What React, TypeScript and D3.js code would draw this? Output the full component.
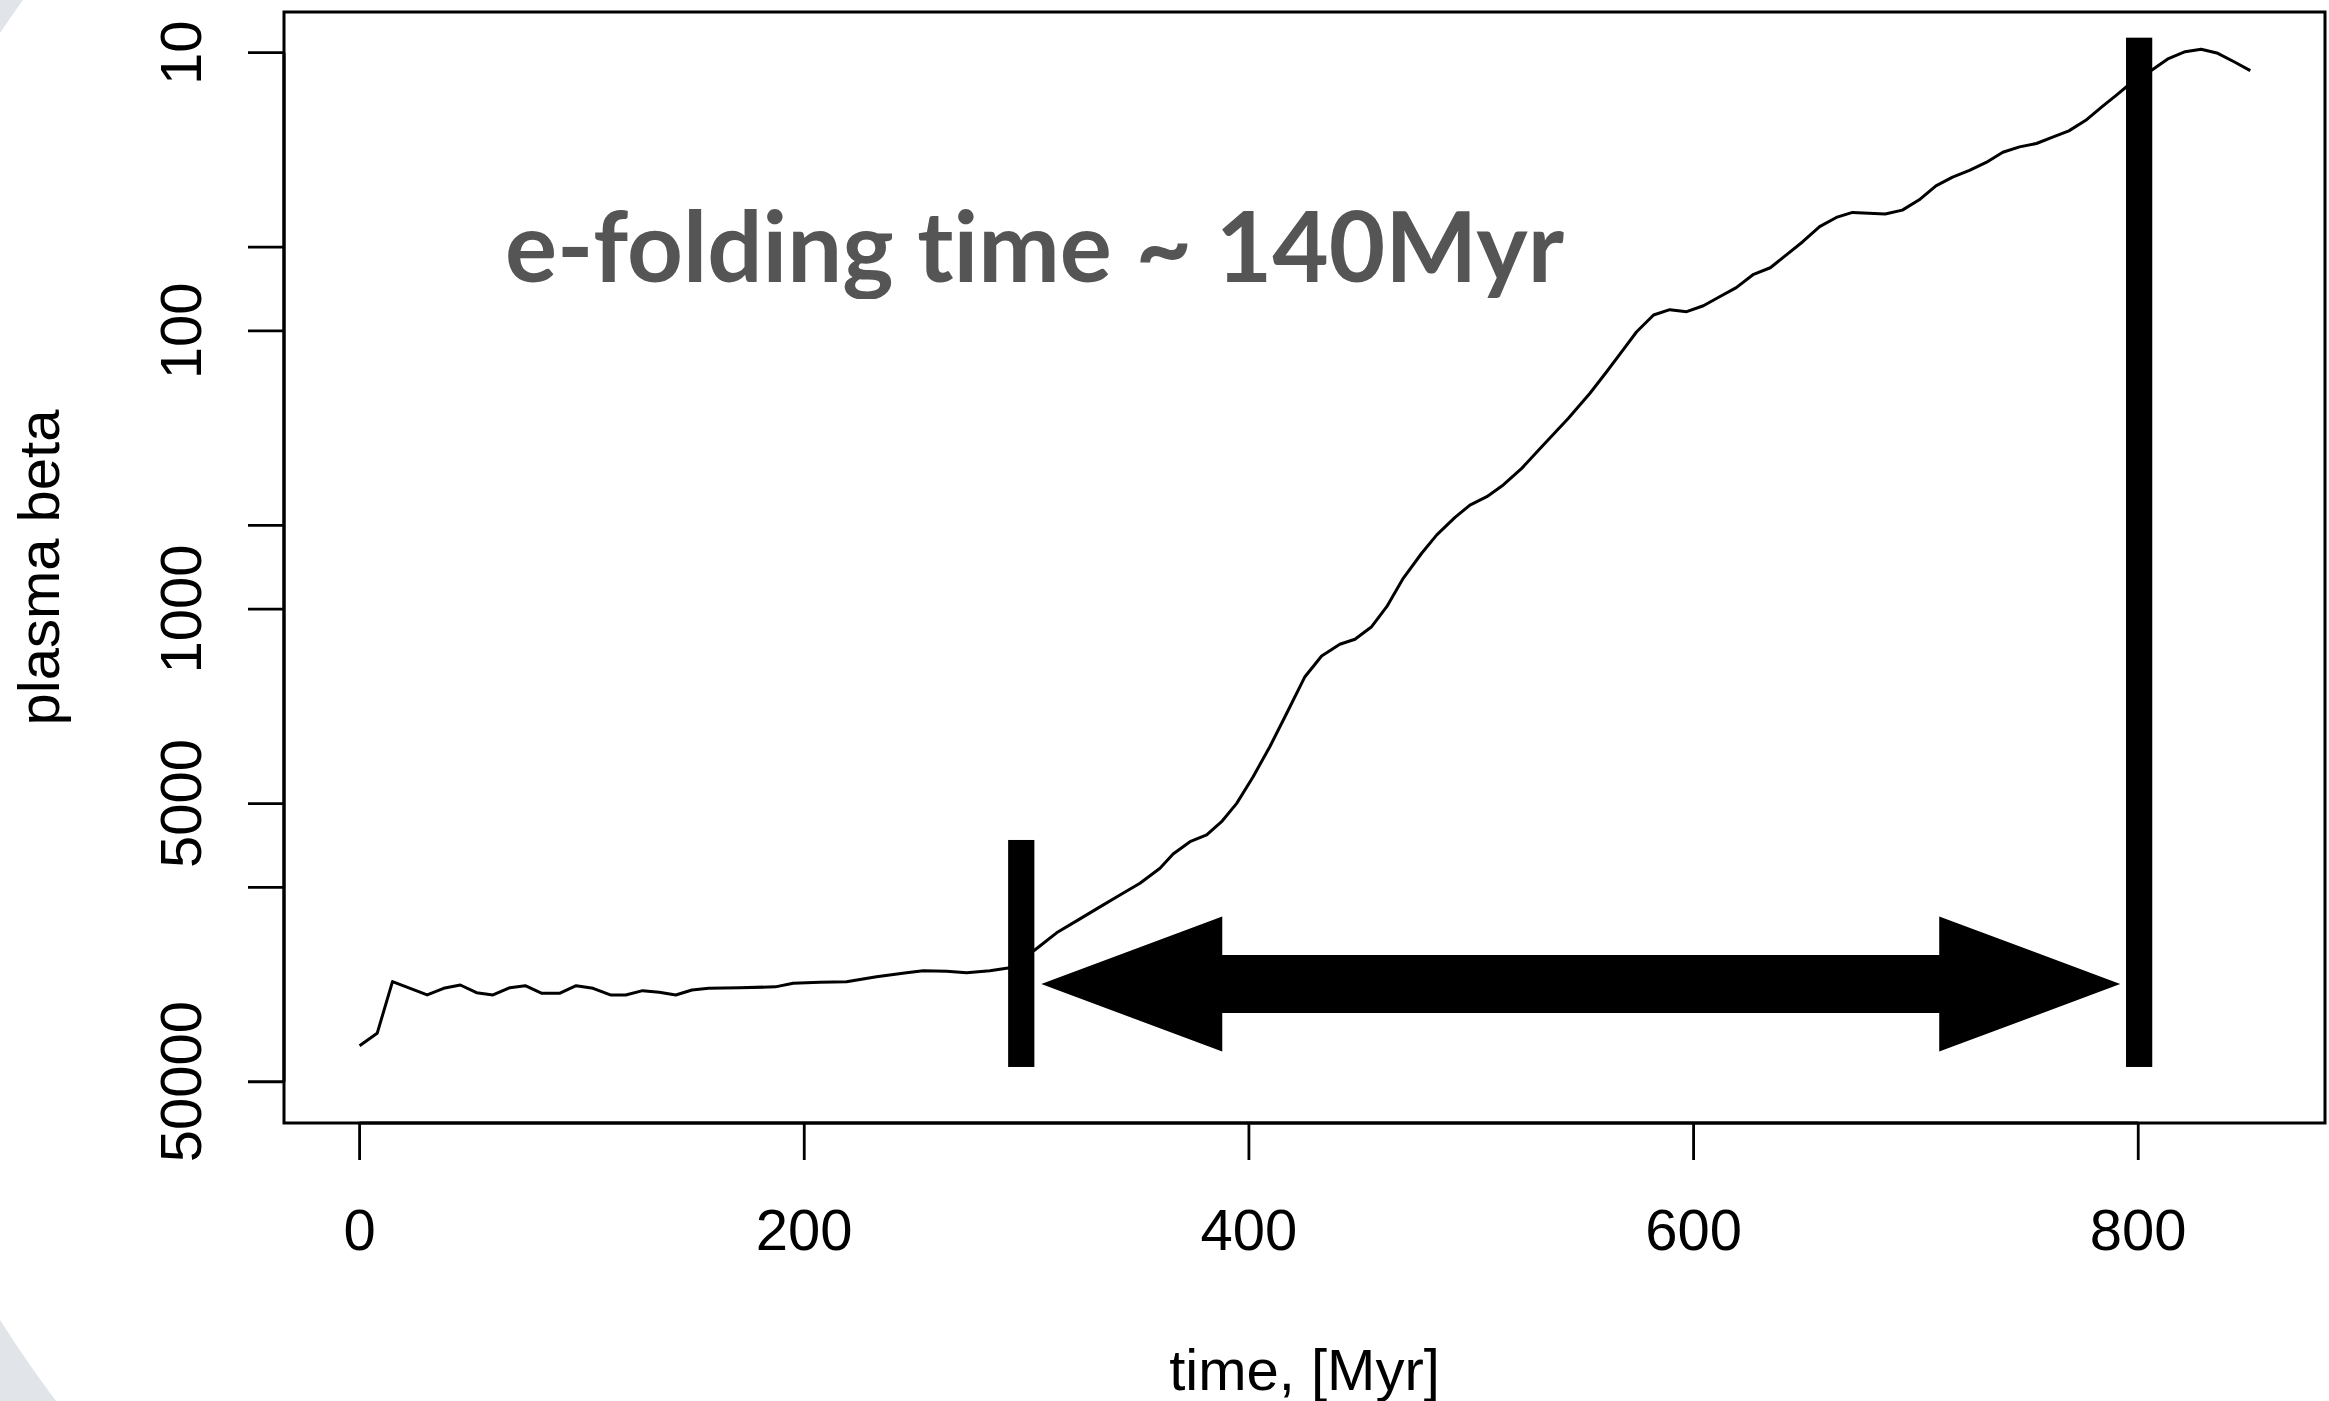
import React from 'react';
import * as d3 from 'd3';

// ---- data ----
const time = [
  0, 7.9, 14.8, 30.4, 37.8, 45.3, 52.6, 60.0, 67.6, 74.5,
  82.0, 89.9, 97.4, 105.0, 112.8, 119.7, 127.3, 134.8, 142.2, 149.5,
  157.0, 171.0, 187.0, 195.0, 207.0, 219.0, 232.5, 246.0, 253.5, 264.0,
  273.0, 283.5, 291.7, 303.7, 313.5, 324.0, 333.0, 342.0, 351.0, 360.0,
  365.9, 373.5, 381.0, 387.7, 394.5, 401.9, 409.4, 417.0, 425.2, 432.7,
  440.9, 447.7, 455.2, 462.0, 469.4, 477.7, 484.5, 492.7, 499.4, 507.0,
  514.4, 522.7, 531.7, 543.7, 553.4, 560.9, 567.7, 574.4, 582.0, 589.3,
  596.9, 604.4, 611.7, 619.2, 627.0, 634.5, 641.6, 649.1, 656.7, 664.2,
  671.5, 686.2, 693.9, 701.5, 709.0, 716.5, 724.1, 731.6, 739.1, 746.6,
  754.2, 761.5, 768.8, 776.4, 783.9, 790.2, 795.0, 806.5, 813.6, 821.1,
  828.3, 835.8, 843.3, 850.4,
];
const plasmaBeta = [
  37100, 33490, 21840, 24380, 23070, 22450, 23930, 24380, 22960, 22580,
  24050, 24050, 22580, 23070, 24380, 24380, 23530, 23850, 24380, 23400,
  23070, 22960, 22800, 22130, 21950, 21840, 20960, 20280, 19940, 20040,
  20280, 19940, 19490, 16810, 14580, 12990, 11760, 10660, 9675, 8544,
  7592, 6857, 6486, 5811, 4992, 4004, 3124, 2369, 1750, 1474,
  1338, 1284, 1157, 980, 775, 630, 541, 468, 423, 394.5,
  358, 312, 260.8, 206.2, 167.6, 140.2, 118.8, 100.7, 87.7, 83.9,
  85.3, 81.2, 75.4, 69.9, 62.6, 59.3, 53.4, 47.8, 42.2, 39.1,
  37.5, 38.0, 36.8, 33.8, 30.1, 28.0, 26.5, 24.8, 22.8, 21.8,
  21.2, 20.1, 19.1, 17.5, 15.6, 14.2, 13.2, 11.5, 10.5, 9.92,
  9.72, 10.05, 10.8, 11.6,
];

const xTicks = [0, 200, 400, 600, 800];
const xTickLabels = ['0', '200', '400', '600', '800'];
const yTicks = [10, 50, 100, 500, 1000, 5000, 10000, 50000];
const yTickLabels = ['10', '', '100', '', '1000', '5000', '', '50000'];

// annotation markers (data units)
const markerTimes = [297.6, 800.4];
const markerTops = [6760, 8.83];
const markerBottom = 44250;
const markerHalfWidth = 5.9; // Myr
const arrowStart = 306.6;
const arrowEnd = 791.9;
const arrowLevel = 22270;
const annotationText = 'e-folding time ~ 140Myr';
const xTitle = 'time, [Myr]';
const yTitle = 'plasma beta';

export default function App() {
  const W = 2329;
  const H = 1401;
  const left = 284, right = 2325, top = 12, bottom = 1123;

  const x = d3.scaleLinear().domain([-34, 884]).range([left, right]);
  const y = d3.scaleLog().domain([7.14, 70360]).range([top, bottom]);

  const pts = time.map((t, i) => [t, plasmaBeta[i]] as [number, number]);
  const line = d3.line<[number, number]>().x(d => x(d[0])).y(d => y(d[1]));

  const font = '"Liberation Sans", Arial, Helvetica, sans-serif';
  const fs = 58;

  // double arrow
  const xl = x(arrowStart), xr = x(arrowEnd), yc = y(arrowLevel);
  const headLen = 181, headHalf = 67.5, shaftHalf = 29;
  const arrowPath = [
    `M${xl},${yc}`,
    `L${xl + headLen},${yc - headHalf}`,
    `L${xl + headLen},${yc - shaftHalf}`,
    `L${xr - headLen},${yc - shaftHalf}`,
    `L${xr - headLen},${yc - headHalf}`,
    `L${xr},${yc}`,
    `L${xr - headLen},${yc + headHalf}`,
    `L${xr - headLen},${yc + shaftHalf}`,
    `L${xl + headLen},${yc + shaftHalf}`,
    `L${xl + headLen},${yc + headHalf}`,
    'Z',
  ].join(' ');

  return (
    <svg
      width={W}
      height={H}
      viewBox={`0 0 ${W} ${H}`}
      style={{ position: 'absolute', left: 0, top: 0, display: 'block', background: '#ffffff' }}
    >
      <defs>
        <clipPath id="annClip">
          <rect x={0} y={0} width={W} height={299} />
        </clipPath>
      </defs>
      <rect x={0} y={0} width={W} height={H} fill="#ffffff" />
      {/* slide background corners */}
      <path d="M0,0 L23,0 A1300,1300 0 0 0 0,33 Z" fill="#e1e5ea" />
      <path d="M0,1401 L0,1320 A1300,1300 0 0 0 56,1401 Z" fill="#e1e5ea" />

      {/* data line */}
      <path d={line(pts) || ''} fill="none" stroke="#000" strokeWidth={3} strokeLinejoin="round" />

      {/* markers */}
      {markerTimes.map((t, i) => (
        <rect
          key={i}
          x={x(t - markerHalfWidth)}
          y={y(markerTops[i])}
          width={x(t + markerHalfWidth) - x(t - markerHalfWidth)}
          height={y(markerBottom) - y(markerTops[i])}
          fill="#000"
        />
      ))}
      <path d={arrowPath} fill="#000" />

      {/* annotation text */}
      <text
        x={505}
        y={282}
        fontFamily='Lato, "Open Sans", sans-serif'
        fontWeight={700}
        fontSize={98}
        fill="#555555"
        textLength={1059}
        lengthAdjust="spacingAndGlyphs"
        clipPath="url(#annClip)"
        style={{ fontVariantLigatures: 'none', fontFeatureSettings: '"liga" 0, "clig" 0' }}
      >
        {annotationText}
      </text>

      {/* box */}
      <rect x={left} y={top} width={right - left} height={bottom - top} fill="none" stroke="#000" strokeWidth={3} />

      {/* x axis */}
      <line x1={x(xTicks[0])} x2={x(xTicks[xTicks.length - 1])} y1={bottom} y2={bottom} stroke="#000" strokeWidth={3} />
      {xTicks.map((t, i) => (
        <g key={`xt${i}`}>
          <line x1={x(t)} x2={x(t)} y1={bottom} y2={bottom + 37} stroke="#000" strokeWidth={2.8} />
          <text x={x(t)} y={1250} textAnchor="middle" fontFamily={font} fontSize={fs} fill="#000">
            {xTickLabels[i]}
          </text>
        </g>
      ))}

      {/* y axis */}
      <line x1={left} x2={left} y1={y(yTicks[0])} y2={y(yTicks[yTicks.length - 1])} stroke="#000" strokeWidth={3} />
      {yTicks.map((v, i) => (
        <g key={`yt${i}`}>
          <line x1={left - 36} x2={left} y1={y(v)} y2={y(v)} stroke="#000" strokeWidth={2.8} />
          {yTickLabels[i] && (
            <text
              transform={`translate(201,${y(v)}) rotate(-90)`}
              textAnchor="middle"
              fontFamily={font}
              fontSize={fs}
              fill="#000"
            >
              {yTickLabels[i]}
            </text>
          )}
        </g>
      ))}

      {/* titles */}
      <text x={(left + right) / 2} y={1390} textAnchor="middle" fontFamily={font} fontSize={fs} fill="#000">
        {xTitle}
      </text>
      <text
        transform={`translate(59,${(top + bottom) / 2}) rotate(-90)`}
        textAnchor="middle"
        fontFamily={font}
        fontSize={fs}
        fill="#000"
      >
        {yTitle}
      </text>
    </svg>
  );
}
